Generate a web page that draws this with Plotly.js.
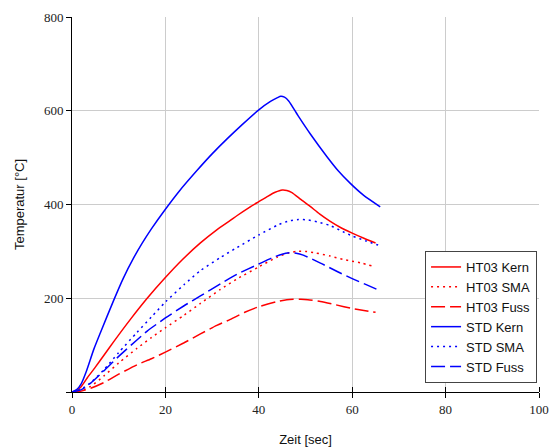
<!DOCTYPE html>
<html>
<head>
<meta charset="utf-8">
<script src="https://cdn.plot.ly/plotly-3.0.1.min.js"></script>
<style>html,body{margin:0;padding:0;background:#fff;}#chart{width:557px;height:447px;}</style>
</head>
<body>
<div id="chart"></div>
<script>
// Series names
var seriesNames = ["HT03 Kern", "HT03 SMA", "HT03 Fuss", "STD Kern", "STD SMA", "STD Fuss"];

// HT03 Kern
var ht03KernT = [0, 1, 2, 3.25, 5, 6.8, 8.9, 12.5, 16.1, 19.8, 23.5, 27.5, 31, 33.9, 35.3, 38, 40, 42, 43.5, 45, 46, 47, 49, 51, 53, 55.3, 57.5, 60, 62.5, 65];
var ht03KernY = [0, 3, 12, 30, 53, 78, 107, 155, 200, 242, 281, 318, 346, 366, 376, 394, 406, 418, 426, 431, 430, 426, 411, 396, 380, 364, 351, 339, 328, 318];

// HT03 SMA
var ht03SmaT = [0, 2, 4, 6.8, 10, 13.9, 17, 20, 24, 27.5, 31.8, 35.3, 40, 44, 46.5, 48.2, 50, 52, 55.3, 58, 60, 62, 64.2];
var ht03SmaY = [0, 3, 12, 34, 62, 93, 116, 137, 164, 189, 219, 241, 267, 288, 297, 300, 300, 297, 290, 283, 279, 275, 269];

// HT03 Fuss
var ht03FussT = [0, 2, 4, 6.8, 10, 13.9, 17, 20, 24, 27.5, 31, 33.9, 37, 40, 44, 46, 47.4, 49, 50.5, 53.2, 56.5, 60, 62.5, 65];
var ht03FussY = [0, 2, 8, 20, 38, 58, 71, 85, 105, 124, 142, 155, 170, 182, 193, 197, 198, 198, 197, 193, 186, 178, 174, 170];

// STD Kern
var stdKernT = [0, 1, 2, 3, 4.7, 6.1, 8.9, 11, 13.2, 15, 17, 20, 23, 26.8, 30, 33.2, 36.5, 40, 42.5, 44, 44.7, 45.5, 46.4, 48.5, 51, 54.6, 57, 59.6, 62.4, 66];
var stdKernY = [0, 5, 18, 42, 92, 127, 195, 243, 286, 317, 348, 390, 429, 473, 508, 540, 571, 602, 620, 628, 631, 629, 621, 588, 551, 502, 472, 445, 420, 395];

// STD SMA
var stdSmaT = [0, 2, 4, 6.8, 10, 13.9, 17, 20, 24, 27.5, 31.8, 35.3, 40, 44, 46.5, 48.5, 50.5, 52.5, 55.3, 58, 60, 63, 66];
var stdSmaY = [0, 6, 20, 47, 84, 127, 160, 192, 229, 259, 287, 308, 335, 356, 365, 368, 367, 363, 355, 342, 333, 322, 312];

// STD Fuss
var stdFussT = [0, 2, 4, 6.8, 10, 13.9, 16.1, 20, 24, 27.5, 31.8, 35.3, 40, 43, 45, 46.7, 48, 49.5, 53.2, 57, 60, 63, 66];
var stdFussY = [0, 5, 19, 45, 76, 111, 130, 158, 184, 205, 231, 251, 273, 287, 294, 297, 296, 292, 275, 256, 242, 229, 216];

// Axis ticks
var xTicks = [0, 20, 40, 60, 80, 100];
var xTickLabels = ["0", "20", "40", "60", "80", "100"];
var yTicks = [0, 200, 400, 600, 800];
var yTickLabels = ["", "200", "400", "600", "800"];

var RED = "#ff0000", BLUE = "#0000ff";
var styles = [
  {color: RED, dash: "solid"},
  {color: RED, dash: "2px,4px"},
  {color: RED, dash: "14px,5px"},
  {color: BLUE, dash: "solid"},
  {color: BLUE, dash: "2px,4px"},
  {color: BLUE, dash: "14px,5px"}
];
var xs = [ht03KernT, ht03SmaT, ht03FussT, stdKernT, stdSmaT, stdFussT];
var ys = [ht03KernY, ht03SmaY, ht03FussY, stdKernY, stdSmaY, stdFussY];

var traces = seriesNames.map(function (name, i) {
  return {
    type: "scatter",
    mode: "lines",
    name: name,
    x: xs[i],
    y: ys[i],
    line: {color: styles[i].color, dash: styles[i].dash, width: 1.5, shape: "spline", smoothing: 0.6}
  };
});

var layout = {
  width: 557,
  height: 447,
  margin: {l: 72, r: 18, t: 17, b: 55},
  paper_bgcolor: "#ffffff",
  plot_bgcolor: "#ffffff",
  showlegend: true,
  legend: {
    x: 0.756, xanchor: "left",
    y: 0.024, yanchor: "bottom",
    bgcolor: "#ffffff",
    bordercolor: "#444444",
    borderwidth: 1,
    font: {family: "Liberation Sans, Arial, sans-serif", size: 13, color: "#111111"},
    tracegroupgap: 0
  },
  xaxis: {
    range: [0, 100],
    tickmode: "array",
    tickvals: xTicks,
    ticktext: xTickLabels,
    ticks: "outside",
    ticklen: 5,
    tickcolor: "#000000",
    showline: true,
    linecolor: "#000000",
    linewidth: 1,
    showgrid: true,
    gridcolor: "#cccccc",
    gridwidth: 1,
    zeroline: false,
    tickfont: {family: "Liberation Serif", size: 13, color: "#222222"},
    minor: {tickmode: "array", tickvals: [20, 40, 60, 80, 100], ticks: "inside", ticklen: 5, tickcolor: "#000000", showgrid: false},
    title: {text: "Zeit [sec]", standoff: 24, font: {family: "Liberation Sans, Arial, sans-serif", size: 13, color: "#111111"}},
    automargin: false,
    fixedrange: true
  },
  yaxis: {
    range: [0, 800],
    tickmode: "array",
    tickvals: yTicks,
    ticktext: yTickLabels,
    ticks: "outside",
    ticklen: 5,
    tickcolor: "#000000",
    showline: true,
    linecolor: "#000000",
    linewidth: 1,
    showgrid: true,
    gridcolor: "#cccccc",
    gridwidth: 1,
    zeroline: false,
    tickfont: {family: "Liberation Serif", size: 13, color: "#222222"},
    title: {text: "Temperatur [°C]", standoff: 16, font: {family: "Liberation Sans, Arial, sans-serif", size: 13, color: "#111111"}},
    automargin: false,
    fixedrange: true
  }
};

Plotly.newPlot("chart", traces, layout, {displayModeBar: false, staticPlot: true});
</script>
</body>
</html>
